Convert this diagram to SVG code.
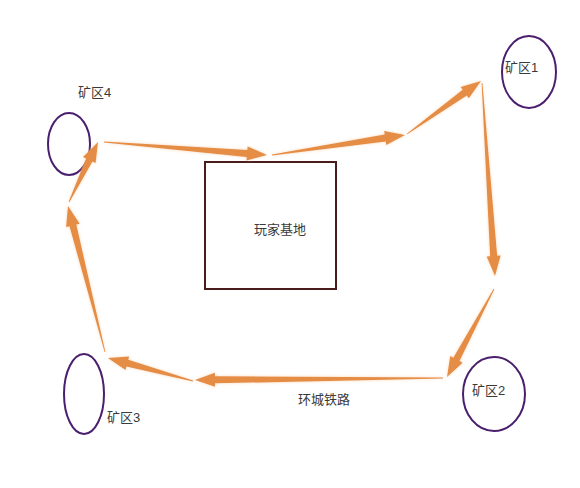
<svg xmlns="http://www.w3.org/2000/svg" width="580" height="488" viewBox="0 0 580 488">
<style>
.zone{fill:none;stroke:#4a1f6e;stroke-width:2}
.base{fill:none;stroke:#4a1c1c;stroke-width:2}
.lbl{font-family:"Liberation Sans","Noto Sans CJK SC",sans-serif;font-size:13px;fill:#3a3a3a}
.arr{fill:#e58c45;filter:url(#glow)}
</style>
<defs>
<filter id="glow" x="-20%" y="-20%" width="140%" height="140%">
<feGaussianBlur in="SourceAlpha" stdDeviation="1.8" result="b"/>
<feFlood flood-color="#f6c594" flood-opacity="0.7"/>
<feComposite in2="b" operator="in" result="g"/>
<feMerge><feMergeNode in="g"/><feMergeNode in="SourceGraphic"/></feMerge>
</filter>
</defs>
<rect width="580" height="488" fill="#fff"/>
<g id="base">
<rect class="base" x="205" y="162" width="131" height="127"/>
<text class="lbl" x="254" y="234">玩家基地</text>
</g>
<g id="zone1">
<ellipse class="zone" cx="529" cy="72" rx="27" ry="36"/>
<text class="lbl" x="505" y="72">矿区1</text>
</g>
<g id="zone2">
<ellipse class="zone" cx="494" cy="394" rx="31" ry="37"/>
<text class="lbl" x="472" y="395">矿区2</text>
</g>
<g id="zone3">
<ellipse class="zone" cx="84" cy="394" rx="20" ry="40"/>
<text class="lbl" x="107" y="422">矿区3</text>
</g>
<g id="zone4">
<ellipse class="zone" cx="69" cy="144" rx="21" ry="31"/>
<text class="lbl" x="78" y="97">矿区4</text>
</g>
<g id="connectors">
<polygon class="arr" points="103.97,142.40 246.78,156.90 246.50,160.39 267,155 247.62,146.43 247.34,149.92 104.03,141.60"/>
<polygon class="arr" points="272.06,155.40 385.74,141.43 386.26,144.89 405,135 384.18,131.05 384.70,134.51 271.94,154.60"/>
<polygon class="arr" points="407.23,134.33 466.78,95.50 468.82,98.34 481,81 460.66,86.96 462.70,89.80 406.77,133.67"/>
<polygon class="arr" points="481.60,83.03 490.17,256.28 486.67,256.51 495,276 500.65,255.57 497.15,255.80 482.40,82.97"/>
<polygon class="arr" points="493.65,288.81 453.33,357.71 450.25,356.06 447,377 462.59,362.66 459.51,361.01 494.35,289.19"/>
<polygon class="arr" points="443,377.6 214.97,376.34 214.94,372.84 195,380 215.06,386.84 215.03,383.34 443,378.4"/>
<polygon class="arr" points="193.10,380.61 128.22,359.84 129.14,356.46 108,358 125.48,369.98 126.40,366.60 192.90,381.39"/>
<polygon class="arr" points="105.39,351.90 76.30,224.53 79.70,223.67 68,206 66.12,227.11 69.52,226.25 104.61,352.10"/>
<polygon class="arr" points="69.36,202.17 92.45,161.53 95.60,163.06 98,142 83.00,156.96 86.15,158.49 68.64,201.83"/>
<text class="lbl" x="298" y="404">环城铁路</text>
</g>
</svg>
